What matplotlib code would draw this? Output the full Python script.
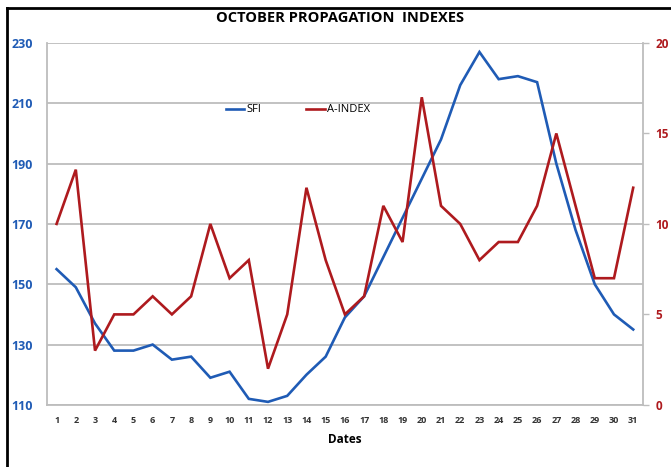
import matplotlib
matplotlib.use("Agg")
import matplotlib.pyplot as plt
from matplotlib.lines import Line2D

dates = list(range(1, 32))
date_labels = [str(d) for d in dates]
sfi = [155, 149, 137, 128, 128, 130, 125, 126, 119, 121, 112, 111, 113, 120, 126,
       139, 146, 159, 172, 185, 198, 216, 227, 218, 219, 217, 190, 168, 150, 140, 135]
a_index = [10, 13, 3, 5, 5, 6, 5, 6, 10, 7, 8, 2, 5, 12, 8,
           5, 6, 11, 9, 17, 11, 10, 8, 9, 9, 11, 15, 11, 7, 7, 12]
left_ticks = [110, 130, 150, 170, 190, 210, 230]
right_ticks = [0, 5, 10, 15, 20]

blue = '#1F5BB5'
red = '#AE1A1E'
grid = '#BDBDBD'
fam = ['Open Sans', 'DejaVu Sans']

fig = plt.figure(figsize=(6.71, 4.67), dpi=100)
ax = fig.add_axes([0.070, 0.133, 0.888, 0.775])
ax2 = ax.twinx()

ax.plot(dates, sfi, color=blue, lw=1.9, solid_joinstyle='miter', zorder=3)
ax2.plot(dates, a_index, color=red, lw=1.9, solid_joinstyle='miter', zorder=3)

ax.set_xlim(0.5, 31.5)
ax.set_ylim(110, 230)
ax2.set_ylim(0, 20)
ax.set_yticks(left_ticks)
ax2.set_yticks(right_ticks)
ax.set_xticks(dates)
ax.set_xticklabels(date_labels)

ax.grid(axis='y', color=grid, lw=1.3)
ax.set_axisbelow(True)
for s in ['top']:
    ax.spines[s].set_visible(False)
    ax2.spines[s].set_visible(False)
for a in (ax, ax2):
    for s in ['left', 'bottom', 'right']:
        a.spines[s].set_color(grid)
        a.spines[s].set_linewidth(1.3)
ax2.spines['left'].set_visible(False)
ax2.spines['bottom'].set_visible(False)
ax.spines['right'].set_visible(False)

ax.tick_params(axis='y', length=0, pad=10, labelcolor=blue, labelsize=9)
ax.tick_params(axis='x', length=0, pad=8, labelcolor='#333333', labelsize=6.5)
ax2.tick_params(axis='y', length=4, width=1.0, color=grid, pad=5, labelcolor=red, labelsize=8.5)
for lab in ax.get_yticklabels() + ax2.get_yticklabels():
    lab.set_fontweight('bold')
    lab.set_family(fam)
for lab in ax.get_xticklabels():
    lab.set_fontweight('bold')
    lab.set_family(fam)

ax.set_xlabel('Dates', fontsize=8.5, fontweight='bold', family=fam, labelpad=6)
fig.text(0.507, 0.962, 'OCTOBER PROPAGATION  INDEXES', ha='center', va='center',
         fontsize=10.5, fontweight='bold', family=fam)

handles = [Line2D([], [], color=blue, lw=1.9), Line2D([], [], color=red, lw=1.9)]
leg = ax.legend(handles, ['SFI', 'A-INDEX'], loc='center left', bbox_to_anchor=(0.283, 0.815),
                ncol=2, frameon=False, handlelength=1.7, handletextpad=0.2, columnspacing=4.0,
                prop={'family': fam, 'size': 8})

# black frame (left and top edges visible)
fig.add_artist(plt.Line2D([7/671, 7/671], [0, 1 - 8/467], transform=fig.transFigure, color='black', lw=2))
fig.add_artist(plt.Line2D([7/671, 1], [1 - 8/467, 1 - 8/467], transform=fig.transFigure, color='black', lw=2))

fig.savefig('out.png', dpi=100)
